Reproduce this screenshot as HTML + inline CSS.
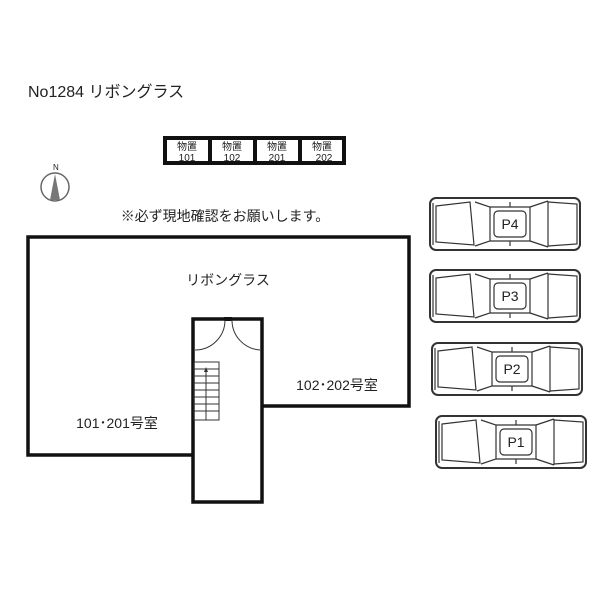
<!DOCTYPE html>
<html><head><meta charset="utf-8"><style>
html,body{margin:0;padding:0;background:#fff;}
svg text{font-family:"Liberation Sans","Noto Sans CJK JP",sans-serif;fill:#222;}
</style></head><body>
<svg width="600" height="600" viewBox="0 0 600 600" xmlns="http://www.w3.org/2000/svg">
<rect width="600" height="600" fill="#fff"/>
<text x="28" y="97" font-size="16">No1284 リボングラス</text>
<g stroke="#111" stroke-width="4" fill="#fff">
<rect x="165" y="138" width="45" height="25"/>
<rect x="210" y="138" width="45" height="25"/>
<rect x="255" y="138" width="45" height="25"/>
<rect x="300" y="138" width="44" height="25"/>
</g>
<g font-size="10" text-anchor="middle">
<text x="187" y="150">物置</text><text x="187" y="161">101</text>
<text x="232" y="150">物置</text><text x="232" y="161">102</text>
<text x="277" y="150">物置</text><text x="277" y="161">201</text>
<text x="322" y="150">物置</text><text x="324" y="161">202</text>
</g>
<text x="53" y="170" font-size="8" fill="#555">N</text>
<circle cx="55" cy="187" r="14" fill="none" stroke="#666" stroke-width="1.5"/>
<polygon points="55,174 50,200 60,200" fill="#777"/>
<text x="225" y="221" font-size="14" text-anchor="middle">※必ず現地確認をお願いします。</text>
<path d="M192,455 L28,455 L28,237 L409,237 L409,406 L262,406" fill="none" stroke="#111" stroke-width="3.5"/>
<rect x="193" y="319" width="69" height="183" fill="#fff" stroke="#111" stroke-width="3.5"/>
<line x1="224" y1="319" x2="232" y2="319" stroke="#111" stroke-width="4"/>
<path d="M195,350 A30,30 0 0 0 225,320 M260,350 A30,30 0 0 1 232,320" fill="none" stroke="#333" stroke-width="1"/>
<g stroke="#333" stroke-width="1" fill="none">
<rect x="194" y="362" width="25" height="58"/>
<line x1="194" y1="369" x2="219" y2="369"/><line x1="194" y1="376" x2="219" y2="376"/>
<line x1="194" y1="383" x2="219" y2="383"/><line x1="194" y1="390" x2="219" y2="390"/>
<line x1="194" y1="397" x2="219" y2="397"/><line x1="194" y1="404" x2="219" y2="404"/>
<line x1="194" y1="411" x2="219" y2="411"/>
<line x1="206" y1="370" x2="206" y2="420"/>
</g>
<polygon points="206,367 204,372 208,372" fill="#333"/>
<text x="228" y="285" font-size="14" text-anchor="middle">リボングラス</text>
<text x="117" y="428" font-size="14" text-anchor="middle">101･201号室</text>
<text x="337" y="390" font-size="14" text-anchor="middle">102･202号室</text>
<defs>
<g id="car" fill="none" stroke="#333" stroke-width="1.2">
<rect x="0" y="0" width="150" height="52" rx="6" fill="#fff" stroke-width="2"/>
<path d="M3,5 L3,47"/>
<path d="M6,8 L40,4 L44,47 L6,44 Z"/>
<path d="M45,4 L60,9 L60,43 L45,48"/>
<path d="M60,9 L100,9 L100,43 L60,43"/>
<rect x="64" y="13" width="32" height="26" rx="4"/>
<path d="M100,9 L118,3 M100,43 L118,49"/>
<path d="M118,3 L118,49"/>
<path d="M118,4 L147,6 L147,46 L118,48"/>
<line x1="80" y1="4" x2="80" y2="9"/><line x1="80" y1="43" x2="80" y2="48"/>
</g>
</defs>
<use href="#car" x="430" y="198"/>
<use href="#car" x="430" y="270"/>
<use href="#car" x="432" y="343"/>
<use href="#car" x="436" y="416"/>
<g font-size="14" text-anchor="middle">
<text x="510" y="229">P4</text>
<text x="510" y="301">P3</text>
<text x="512" y="374">P2</text>
<text x="516" y="447">P1</text>
</g>
</svg>
</body></html>
